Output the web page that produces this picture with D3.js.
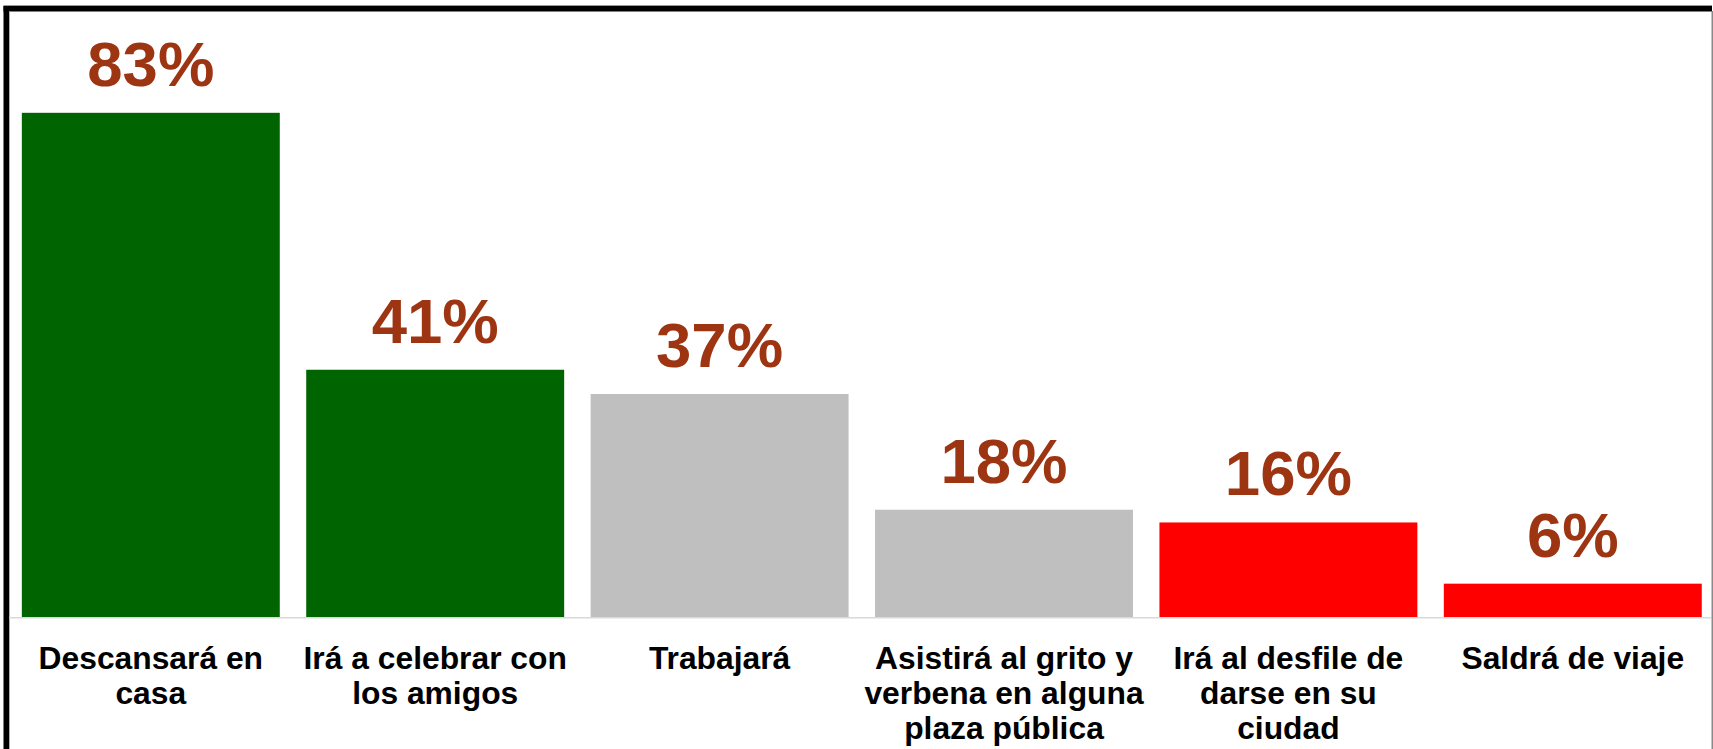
<!DOCTYPE html>
<html>
<head>
<meta charset="utf-8">
<script src="https://cdn.jsdelivr.net/npm/d3@7"></script>
<style>
  html, body { margin: 0; padding: 0; background: #ffffff; }
  svg { display: block; }
</style>
</head>
<body>
<svg id="chart" width="1713" height="749"></svg>
<script>
// ---- data ----
const categories = [
  "Descansará en\ncasa",
  "Irá a celebrar con\nlos amigos",
  "Trabajará",
  "Asistirá al grito y\nverbena en alguna\nplaza pública",
  "Irá al desfile de\ndarse en su\nciudad",
  "Saldrá de viaje"
];
const values = [83.2, 40.8, 36.8, 17.7, 15.6, 5.5];
const valueLabels = ["83%", "41%", "37%", "18%", "16%", "6%"];
const barColors = ["#006400", "#006400", "#BFBFBF", "#BFBFBF", "#FF0000", "#FF0000"];

// ---- layout ----
const W = 1713, H = 749;
const baseY = 617;
const svg = d3.select("#chart");

const x = d3.scaleBand()
  .domain(categories)
  .range([8.6, 1715])
  .paddingInner(0.093)
  .paddingOuter(0.0465);

const y = d3.scaleLinear()
  .domain([0, 100])
  .range([baseY, 11]);

// frame (thick black top/left, thin gray right)
svg.append("rect").attr("x", 3.5).attr("y", 5).attr("width", 1708.5).attr("height", 1).attr("fill", "#9a9a9a");
svg.append("rect").attr("x", 3.5).attr("y", 6).attr("width", 1708.5).attr("height", 5.5).attr("fill", "#000");
svg.append("rect").attr("x", 3.5).attr("y", 6).attr("width", 5.5).attr("height", H - 6).attr("fill", "#000");
svg.append("rect").attr("x", 9).attr("y", 11.5).attr("width", 1).attr("height", H - 11.5).attr("fill", "#b0b0b0");
svg.append("rect").attr("x", 1711.5).attr("y", 11).attr("width", 1.5).attr("height", H - 11).attr("fill", "#8a8a8a");

// bars
svg.append("g").selectAll("rect")
  .data(categories)
  .join("rect")
  .attr("x", d => x(d))
  .attr("y", (d, i) => y(values[i]))
  .attr("width", x.bandwidth())
  .attr("height", (d, i) => baseY - y(values[i]))
  .attr("fill", (d, i) => barColors[i]);

// axis baseline
svg.append("line")
  .attr("x1", 9).attr("x2", 1711)
  .attr("y1", baseY + 0.75).attr("y2", baseY + 0.75)
  .attr("stroke", "#d9d9d9").attr("stroke-width", 1.5);

// value labels
svg.append("g").selectAll("text")
  .data(categories)
  .join("text")
  .attr("x", d => x(d) + x.bandwidth() / 2)
  .attr("y", (d, i) => y(values[i]) - 27)
  .attr("text-anchor", "middle")
  .attr("font-family", "'Liberation Sans', Arial, sans-serif")
  .attr("font-weight", "bold")
  .attr("font-size", 63.5)
  .attr("fill", "#9E3512")
  .text((d, i) => valueLabels[i]);

// category labels
const catG = svg.append("g");
categories.forEach(c => {
  const t = catG.append("text")
    .attr("x", x(c) + x.bandwidth() / 2)
    .attr("y", 669)
    .attr("text-anchor", "middle")
    .attr("font-family", "'Liberation Sans', Arial, sans-serif")
    .attr("font-weight", "bold")
    .attr("font-size", 31.8)
    .attr("fill", "#000");
  c.split("\n").forEach((line, j) => {
    t.append("tspan")
      .attr("x", x(c) + x.bandwidth() / 2)
      .attr("dy", j === 0 ? 0 : 35)
      .text(line);
  });
});
</script>
</body>
</html>
